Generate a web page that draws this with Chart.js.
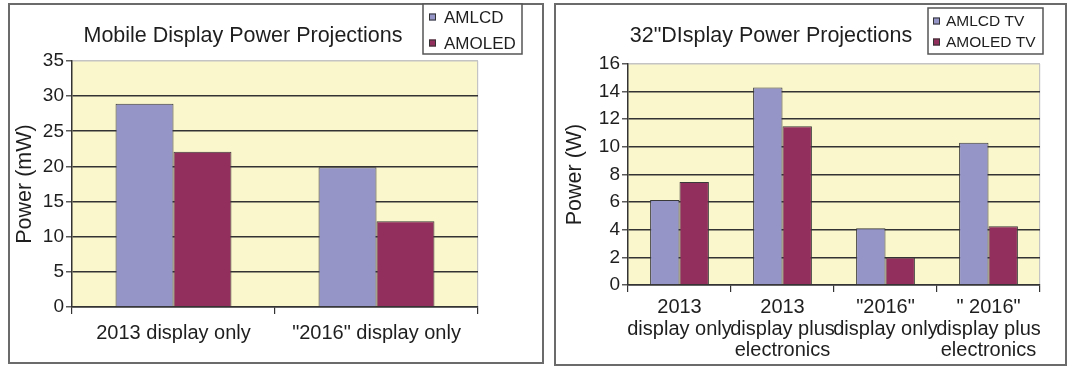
<!DOCTYPE html>
<html>
<head>
<meta charset="utf-8">
<script src="https://cdn.jsdelivr.net/npm/chart.js@4.4.1/dist/chart.umd.min.js"></script>
<style>
  html, body { margin: 0; padding: 0; background: #ffffff; }
  body { width: 1070px; height: 367px; position: relative; overflow: hidden; }
  canvas { position: absolute; top: 0; }
  .panel { position: absolute; border: 2px solid #6b6b6b; box-sizing: border-box; pointer-events: none; }
</style>
</head>
<body>
<div class="panel" style="left:8px; top:3px; width:536px; height:361px;"></div>
<div class="panel" style="left:554px; top:3px; width:513px; height:363px;"></div>
<canvas id="c1" width="545" height="367" style="left:0px;"></canvas>
<canvas id="c2" width="525" height="367" style="left:545px;"></canvas>
<script>
// ---------------- data ----------------
const mobileTitle = 'Mobile Display Power Projections';
const mobileCategories = ['2013 display only', '"2016" display only'];
const mobileSeriesNames = ['AMLCD', 'AMOLED'];
const mobileAMLCD = [28.9, 19.9];
const mobileAMOLED = [22.1, 12.2];
const mobileYTitle = 'Power (mW)';
const mobileYMax = 35;
const mobileYStep = 5;

const tvTitle = '32"DIsplay Power Projections';
const tvCategories = [
  ['2013', 'display only'],
  ['2013', 'display plus', 'electronics'],
  ['"2016"', 'display only'],
  ['" 2016"', 'display plus', 'electronics']
];
const tvSeriesNames = ['AMLCD TV', 'AMOLED TV'];
const tvAMLCD = [6.15, 14.3, 4.1, 10.3];
const tvAMOLED = [7.45, 11.5, 2.0, 4.25];
const tvYTitle = 'Power (W)';
const tvYMax = 16;
const tvYStep = 2;

// ---------------- styles ----------------
const FONT = "'Liberation Sans', Arial, Helvetica, sans-serif";
const COL_LCD = '#9595c8';
const COL_OLED = '#922f5c';
const BAR_BORDER = '#3a3a3a';
const PLOT_BG = '#fbf7cc';
const GRID_DARK = '#333333';
const GRID_LIGHT = '#c4c4c4';
const TEXT = '#1e1e1e';

const plotBg = {
  id: 'plotBg',
  beforeDraw(chart) {
    const a = chart.chartArea;
    const ctx = chart.ctx;
    ctx.save();
    ctx.fillStyle = PLOT_BG;
    ctx.fillRect(a.left, a.top, a.right - a.left, a.bottom - a.top);
    ctx.restore();
  }
};

const decor = {
  id: 'decor',
  afterDraw(chart, args, opts) {
    const ctx = chart.ctx;
    ctx.save();
    // title
    ctx.fillStyle = TEXT;
    ctx.font = opts.titleSize + 'px ' + FONT;
    ctx.textAlign = 'center';
    ctx.textBaseline = 'alphabetic';
    ctx.fillText(opts.title, opts.titleX, opts.titleY);
    // legend box
    const b = opts.box;
    ctx.fillStyle = '#ffffff';
    ctx.fillRect(b.x, b.y, b.w, b.h);
    ctx.strokeStyle = '#555555';
    ctx.lineWidth = 1.5;
    ctx.strokeRect(b.x, b.y, b.w, b.h);
    ctx.font = opts.legendSize + 'px ' + FONT;
    ctx.textAlign = 'left';
    ctx.textBaseline = 'middle';
    chart.data.datasets.forEach((ds, i) => {
      const cy = opts.itemY[i];
      ctx.fillStyle = ds.backgroundColor;
      ctx.fillRect(opts.sqX, cy - opts.sq / 2, opts.sq, opts.sq);
      ctx.strokeStyle = '#333333';
      ctx.lineWidth = 1;
      ctx.strokeRect(opts.sqX + 0.5, cy - opts.sq / 2 + 0.5, opts.sq - 1, opts.sq - 1);
      ctx.fillStyle = TEXT;
      ctx.fillText(ds.label, opts.textX, cy + 1);
    });
    ctx.restore();
  }
};

function makeChart(id, cfg) {
  return new Chart(document.getElementById(id), {
    type: 'bar',
    data: {
      labels: cfg.labels,
      datasets: [
        { label: cfg.names[0], data: cfg.s1, backgroundColor: COL_LCD, borderColor: BAR_BORDER, borderWidth: 1 },
        { label: cfg.names[1], data: cfg.s2, backgroundColor: COL_OLED, borderColor: BAR_BORDER, borderWidth: 1 }
      ]
    },
    options: {
      responsive: false,
      animation: false,
      events: [],
      datasets: { bar: { categoryPercentage: 0.571, barPercentage: 1.0 } },
      layout: { padding: cfg.padding },
      plugins: {
        legend: { display: false },
        title: { display: false },
        tooltip: { enabled: false },
        decor: cfg.decor
      },
      scales: {
        x: {
          offset: true,
          afterFit: (s) => { s.height = cfg.xHeight; },
          grid: {
            offset: true,
            drawOnChartArea: true,
            color: (c) => (c.type === 'tick' ? 'rgba(0,0,0,0)' : GRID_LIGHT),
            lineWidth: 1.2,
            tickColor: GRID_DARK,
            tickLength: 7,
            tickWidth: 1.2
          },
          border: { display: true, color: GRID_DARK, width: 1.5 },
          ticks: {
            color: TEXT,
            font: { family: FONT, size: 20, lineHeight: cfg.xLineHeight },
            padding: cfg.xPad,
            maxRotation: 0,
            autoSkip: false
          }
        },
        y: {
          min: 0,
          max: cfg.yMax,
          afterFit: (s) => { s.width = cfg.yWidth; },
          grid: {
            color: (c) => (c.tick && c.tick.value === cfg.yMax ? GRID_LIGHT : GRID_DARK),
            lineWidth: 1.6,
            tickColor: GRID_DARK,
            tickLength: 6,
            tickWidth: 1.2
          },
          border: { display: true, color: GRID_DARK, width: 1.5 },
          ticks: {
            stepSize: cfg.yStep,
            color: TEXT,
            font: { family: FONT, size: 19 },
            padding: 2
          },
          title: {
            display: true,
            text: cfg.yTitle,
            color: TEXT,
            font: { family: FONT, size: 21.5, lineHeight: 1.2 },
            padding: { top: cfg.yTitlePad, bottom: 0 }
          }
        }
      }
    },
    plugins: [plotBg, decor]
  });
}

makeChart('c1', {
  labels: mobileCategories, names: mobileSeriesNames, s1: mobileAMLCD, s2: mobileAMOLED,
  yMax: mobileYMax, yStep: mobileYStep, yTitle: mobileYTitle,
  padding: { left: 0, right: 67, top: 61, bottom: 0 },
  yWidth: 72, xHeight: 60, yTitlePad: 12, xPad: 8, xLineHeight: 1.1,
  decor: {
    title: mobileTitle, titleSize: 21.5, titleX: 243, titleY: 42,
    box: { x: 423, y: 4, w: 99, h: 50 },
    legendSize: 17, sq: 7, sqX: 429, textX: 444, itemY: [17, 43]
  }
});

makeChart('c2', {
  labels: tvCategories, names: tvSeriesNames, s1: tvAMLCD, s2: tvAMOLED,
  yMax: tvYMax, yStep: tvYStep, yTitle: tvYTitle,
  padding: { left: 0, right: 30, top: 64, bottom: 0 },
  yWidth: 83, xHeight: 82, yTitlePad: 17, xPad: 5, xLineHeight: 1.075,
  decor: {
    title: tvTitle, titleSize: 21.5, titleX: 226, titleY: 42,
    box: { x: 383, y: 8, w: 115, h: 46 },
    legendSize: 15.5, sq: 7, sqX: 388, textX: 401, itemY: [21, 42]
  }
});
</script>
</body>
</html>
